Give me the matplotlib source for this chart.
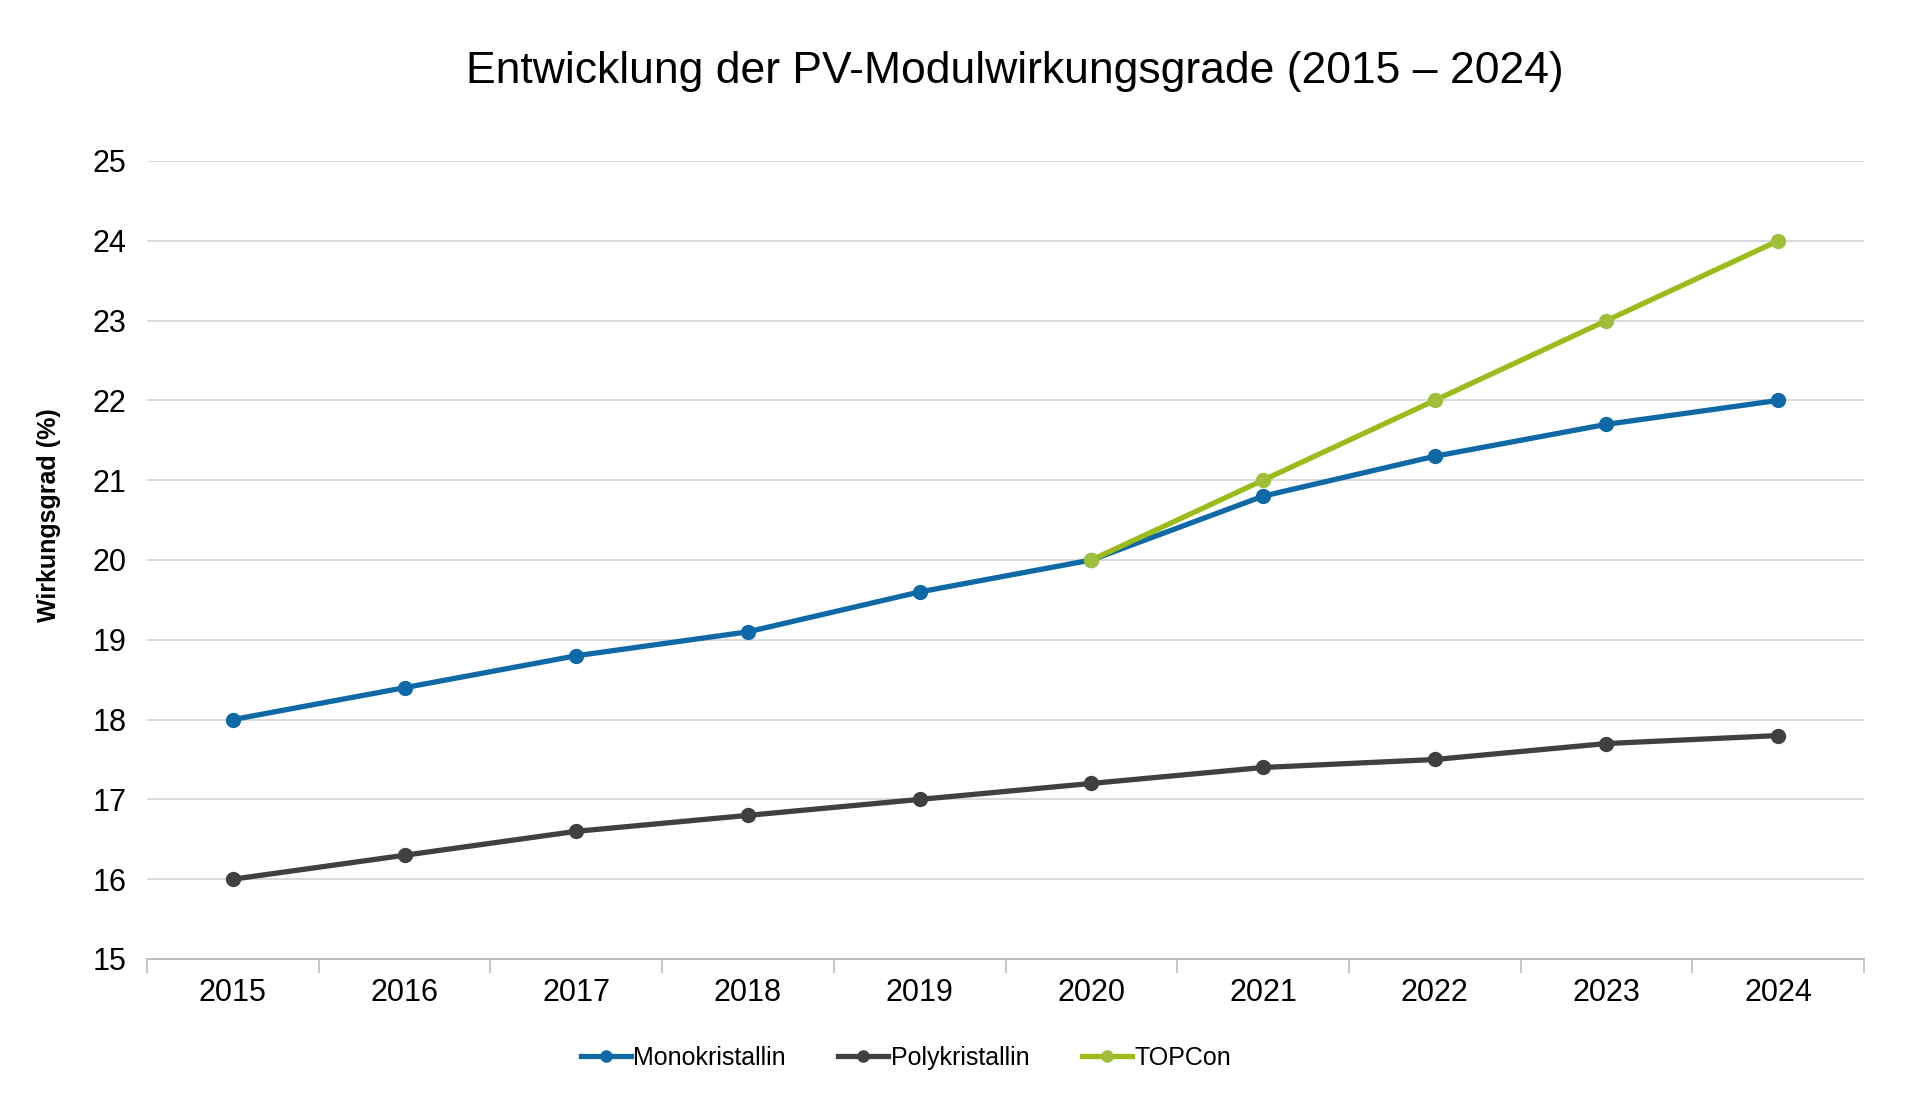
import matplotlib.pyplot as plt
from matplotlib.ticker import FixedLocator, NullFormatter

plt.rcParams['font.family'] = ['Liberation Sans', 'DejaVu Sans']

# Daten
jahre = [2015, 2016, 2017, 2018, 2019, 2020, 2021, 2022, 2023, 2024]
mono = [18.0, 18.4, 18.8, 19.1, 19.6, 20.0, 20.8, 21.3, 21.7, 22.0]
poly = [16.0, 16.3, 16.6, 16.8, 17.0, 17.2, 17.4, 17.5, 17.7, 17.8]
topcon_jahre = [2020, 2021, 2022, 2023, 2024]
topcon = [20.0, 21.0, 22.0, 23.0, 24.0]

c_mono = '#0F69A6'
c_poly = '#404040'
c_topcon = '#9BBB1A'

fig = plt.figure(figsize=(19.2, 11.18), dpi=100)
ax = fig.add_axes([147/1920, 1 - 959/1118, (1864-147)/1920, (959-161)/1118])

ax.plot(jahre, mono, color=c_mono, lw=3.8, marker='o', ms=10, label='Monokristallin', zorder=3)
ax.plot(jahre, poly, color=c_poly, lw=3.8, marker='o', ms=10, label='Polykristallin', zorder=3)
ax.plot(topcon_jahre, topcon, color=c_topcon, lw=3.8, marker='o', ms=10,
        mfc='#A0BE3A', mec='#A0BE3A', label='TOPCon', zorder=4)

ax.set_xlim(2014.5, 2024.5)
ax.set_ylim(15, 25)
ax.set_yticks(range(15, 26))
ax.set_xticks(jahre)
# Striche zwischen den Kategorien
ax.xaxis.set_minor_locator(FixedLocator([j + 0.5 for j in range(2014, 2025)]))
ax.xaxis.set_minor_formatter(NullFormatter())
ax.tick_params(axis='x', which='major', length=0, labelsize=22, pad=14)
ax.tick_params(axis='x', which='minor', length=10, width=1.2, color='#BFBFBF')
ax.tick_params(axis='y', length=0, labelsize=22, pad=15)

ax.grid(axis='y', color='#D9D9D9', lw=1.4)
ax.set_axisbelow(True)
for s in ['top', 'right', 'left']:
    ax.spines[s].set_visible(False)
ax.spines['bottom'].set_color('#BFBFBF')
ax.spines['bottom'].set_linewidth(1.4)

fig.text(1015/1920, 1 - 71/1118, 'Entwicklung der PV-Modulwirkungsgrade (2015 – 2024)',
         ha='center', va='center', fontsize=32)
fig.text(49/1920, 1 - 515/1118, 'Wirkungsgrad (%)', rotation=90, ha='center', va='center',
         fontsize=18, fontweight='bold')

fig.legend(loc='center', bbox_to_anchor=(906/1920, 1 - 1058/1118), ncol=3, frameon=False,
           fontsize=18, handlelength=2.0, handletextpad=0.1, columnspacing=2.1, markerscale=0.8)

fig.savefig('out.png', dpi=100)
